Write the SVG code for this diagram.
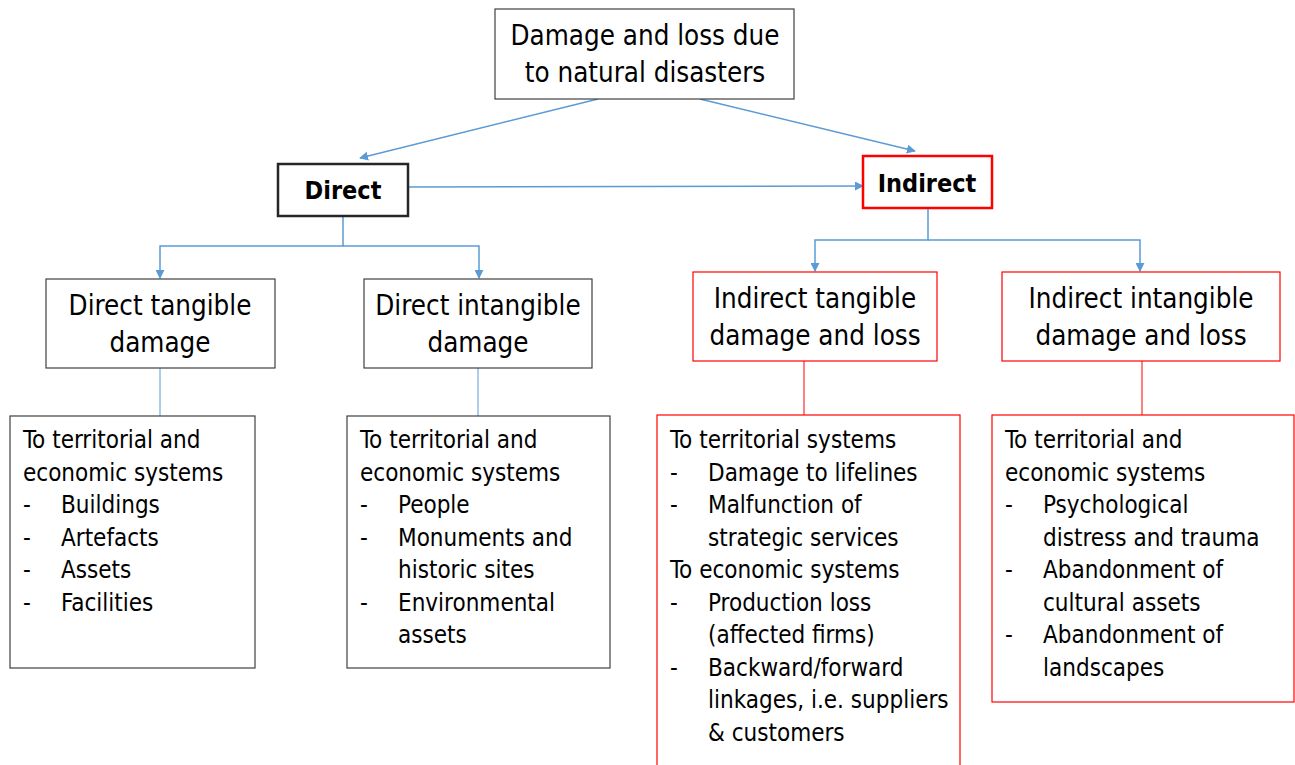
<svg xmlns="http://www.w3.org/2000/svg" width="1295" height="765" viewBox="0 0 1295 765">
<style>
text{font-family:"DejaVu Sans Condensed","DejaVu Sans","Liberation Sans",sans-serif;fill:#000}
.big{font-size:27.5px}
.hd{font-size:25px;font-weight:bold}
.t{font-size:24px}
.gbox{fill:#fff;stroke:#404040;stroke-width:1.2}
.rbox{fill:#fff;stroke:#ff0000;stroke-width:1.2}
.c{fill:none;stroke:#5b9bd5;stroke-width:1.5}
.cr{fill:none;stroke:#ff0000;stroke-width:1}
.cb{fill:none;stroke:#5b9bd5;stroke-width:1}
</style>
<defs>
<marker id="ah" viewBox="0 0 10 10" refX="9" refY="5" markerWidth="9" markerHeight="9" markerUnits="userSpaceOnUse" orient="auto">
<path d="M0,0 L10,5 L0,10 z" fill="#5b9bd5"/>
</marker>
</defs>
<rect width="1295" height="765" fill="#fff"/>
<g id="connectors">
<line class="c" x1="598" y1="99" x2="360" y2="158" marker-end="url(#ah)"/>
<line class="c" x1="700" y1="99" x2="915" y2="151" marker-end="url(#ah)"/>
<line class="c" x1="408" y1="187" x2="863" y2="186" marker-end="url(#ah)"/>
<polyline class="c" points="343,216 343,246 160,246 160,278" marker-end="url(#ah)"/>
<polyline class="c" points="343,246 479,246 479,278" marker-end="url(#ah)"/>
<polyline class="c" points="928,208 928,240 815,240 815,271" marker-end="url(#ah)"/>
<polyline class="c" points="928,240 1140,240 1140,271" marker-end="url(#ah)"/>
<line class="cb" x1="160" y1="368" x2="160" y2="416"/>
<line class="cb" x1="478" y1="368" x2="478" y2="416"/>
<line class="cr" x1="804" y1="361" x2="804" y2="415"/>
<line class="cr" x1="1142" y1="361" x2="1142" y2="415"/>
</g>
<g id="root">
<rect class="gbox" x="495" y="9" width="299" height="90"/>
<text class="big" x="645" y="45" text-anchor="middle">Damage and loss due</text>
<text class="big" x="645" y="82" text-anchor="middle">to natural disasters</text>
</g>
<g id="direct">
<rect x="278" y="164" width="130" height="52" fill="#fff" stroke="#262626" stroke-width="2.5"/>
<text class="hd" x="343" y="199" text-anchor="middle">Direct</text>
</g>
<g id="indirect">
<rect x="863" y="156" width="129" height="52" fill="#fff" stroke="#ff0000" stroke-width="2.5"/>
<text class="hd" x="927" y="192" text-anchor="middle">Indirect</text>
</g>
<g id="direct-tangible">
<rect class="gbox" x="46" y="279" width="229" height="89"/>
<text class="big" x="160" y="315" text-anchor="middle">Direct tangible</text>
<text class="big" x="160" y="352" text-anchor="middle">damage</text>
</g>
<g id="direct-intangible">
<rect class="gbox" x="364" y="279" width="228" height="89"/>
<text class="big" x="478" y="315" text-anchor="middle">Direct intangible</text>
<text class="big" x="478" y="352" text-anchor="middle">damage</text>
</g>
<g id="indirect-tangible">
<rect class="rbox" x="693" y="272" width="244" height="89"/>
<text class="big" x="815" y="308" text-anchor="middle">Indirect  tangible</text>
<text class="big" x="815" y="345" text-anchor="middle">damage and loss</text>
</g>
<g id="indirect-intangible">
<rect class="rbox" x="1002" y="272" width="278" height="89"/>
<text class="big" x="1141" y="308" text-anchor="middle">Indirect  intangible</text>
<text class="big" x="1141" y="345" text-anchor="middle">damage and loss</text>
</g>
<g id="list-direct-tangible">
<rect class="gbox" x="10" y="416" width="245" height="252"/>
<text class="t" x="23" y="448">To territorial and</text>
<text class="t" x="23" y="480.5">economic systems</text>
<text class="t" x="23" y="513">-</text><text class="t" x="61" y="513">Buildings</text>
<text class="t" x="23" y="545.5">-</text><text class="t" x="61" y="545.5">Artefacts</text>
<text class="t" x="23" y="578">-</text><text class="t" x="61" y="578">Assets</text>
<text class="t" x="23" y="610.5">-</text><text class="t" x="61" y="610.5">Facilities</text>
</g>
<g id="list-direct-intangible">
<rect class="gbox" x="347" y="416" width="263" height="252"/>
<text class="t" x="360" y="448">To territorial and</text>
<text class="t" x="360" y="480.5">economic systems</text>
<text class="t" x="360" y="513">-</text><text class="t" x="398" y="513">People</text>
<text class="t" x="360" y="545.5">-</text><text class="t" x="398" y="545.5">Monuments and</text>
<text class="t" x="398" y="578">historic sites</text>
<text class="t" x="360" y="610.5">-</text><text class="t" x="398" y="610.5">Environmental</text>
<text class="t" x="398" y="643">assets</text>
</g>
<g id="list-indirect-tangible">
<rect class="rbox" x="657" y="415" width="303" height="360"/>
<text class="t" x="670" y="448">To territorial systems</text>
<text class="t" x="670" y="480.5">-</text><text class="t" x="708" y="480.5">Damage to lifelines</text>
<text class="t" x="670" y="513">-</text><text class="t" x="708" y="513">Malfunction of</text>
<text class="t" x="708" y="545.5">strategic services</text>
<text class="t" x="670" y="578">To economic systems</text>
<text class="t" x="670" y="610.5">-</text><text class="t" x="708" y="610.5">Production loss</text>
<text class="t" x="708" y="643">(affected firms)</text>
<text class="t" x="670" y="675.5">-</text><text class="t" x="708" y="675.5">Backward/forward</text>
<text class="t" x="708" y="708">linkages, i.e. suppliers</text>
<text class="t" x="708" y="740.5">&amp; customers</text>
</g>
<g id="list-indirect-intangible">
<rect class="rbox" x="992" y="415" width="302" height="287"/>
<text class="t" x="1005" y="448">To territorial and</text>
<text class="t" x="1005" y="480.5">economic systems</text>
<text class="t" x="1005" y="513">-</text><text class="t" x="1043" y="513">Psychological</text>
<text class="t" x="1043" y="545.5">distress and trauma</text>
<text class="t" x="1005" y="578">-</text><text class="t" x="1043" y="578">Abandonment of</text>
<text class="t" x="1043" y="610.5">cultural assets</text>
<text class="t" x="1005" y="643">-</text><text class="t" x="1043" y="643">Abandonment of</text>
<text class="t" x="1043" y="675.5">landscapes</text>
</g>
</svg>
